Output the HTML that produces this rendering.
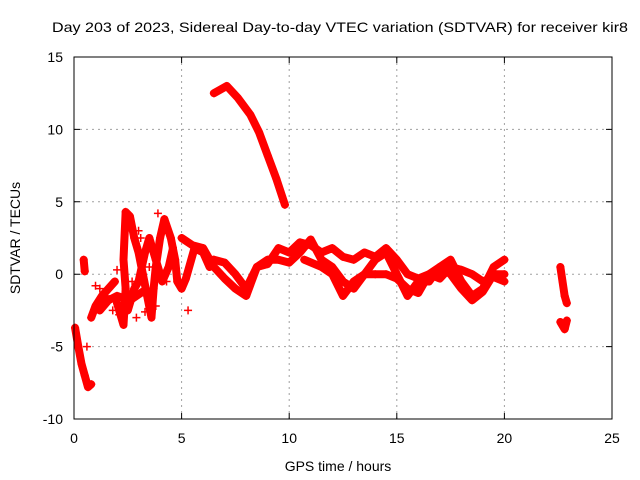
<!DOCTYPE html>
<html><head><meta charset="utf-8"><style>body{margin:0;background:#fff}svg{display:block;font-family:"Liberation Sans",sans-serif}</style></head>
<body>
<svg id="c" width="640" height="480">
<text x="340" y="32" font-size="14" text-anchor="middle" textLength="576" lengthAdjust="spacingAndGlyphs">Day 203 of 2023, Sidereal Day-to-day VTEC variation (SDTVAR) for receiver kir8</text>
<text x="338" y="471" font-size="14" text-anchor="middle">GPS time / hours</text>
<text transform="translate(20,238) rotate(-90)" font-size="14" text-anchor="middle">SDTVAR / TECUs</text>
<g id="grid"></g><g id="marks"></g>
<rect x="74" y="57" width="538" height="362" fill="none" stroke="#000" stroke-width="1"/>
</svg>
<script>
const xTicks=[0,5,10,15,20,25];
const yTicks=[-10,-5,0,5,10,15];
const trackArc=[[6.5,12.5],[7.1,13],[7.6,12.2],[8.2,11],[8.6,9.8],[9.0,8.2],[9.4,6.6],[9.8,4.8]];
const trackEarly=[[0.05,-3.7],[0.2,-5],[0.35,-6.2],[0.5,-7],[0.65,-7.8],[0.8,-7.6]];
const trackEarly2=[[0.45,1],[0.5,0.2]];
const trackEarly3=[[0.8,-3],[1,-2.2],[1.3,-1.5],[1.6,-1],[1.9,-0.5]];
const trackB=[[2.0,-2],[2.3,-3.5],[2.4,-1],[2.3,1],[2.4,4.3],[2.6,4],[2.8,2.5],[3.0,1.5],[3.2,0],[3.4,-1.5],[3.6,-3],[3.7,-1],[3.8,0.5],[4.0,2.5],[4.2,3.8],[4.5,2.5],[4.7,1],[4.8,-0.5],[5.0,-1],[5.2,-0.3],[5.6,1.8],[6.0,1.5],[6.3,0.5],[6.5,1],[7.0,0.8],[7.5,0],[8,-1],[8.5,0.5],[9,1],[9.5,1],[10,0.8],[10.5,1.5],[11,2.4],[11.5,1],[12,0.5],[12.5,-0.5],[13,-1],[13.5,0],[14,1],[14.5,1.5],[15,0],[15.5,-1.5],[16,-0.5],[16.5,-0.5],[17,0.5],[17.5,1],[18,-0.5],[18.5,-1.5],[19,-1],[19.5,0.5],[20,1]];
const trackC=[[5.0,2.5],[5.5,2],[6,1.8],[6.5,0.5],[7,-0.3],[7.5,-1],[8,-1.5],[8.5,0.5],[9,0.7],[9.5,1.8],[10,1.5],[10.5,2.2],[11,2],[11.5,1.5],[12,1.8],[12.5,1.2],[13,1],[13.5,1.5],[14,1.2],[14.5,1.8],[15,1],[15.5,0],[16,-0.3],[16.5,0],[17,-0.3],[17.5,0.5],[18,0.3],[18.5,0],[19,-0.5],[19.5,-0.2],[20,-0.5]];
const trackD=[[10.7,1],[11.5,0.5],[12,0],[12.5,-1.5],[13,-0.5],[13.5,0],[14,0],[14.5,0],[15,-0.3],[15.5,-1],[16,-1.3],[16.5,0],[17,0.5],[17.5,0],[18,-1],[18.5,-1.8],[19,-1.2],[19.5,0],[20,0]];
const trackE=[[2.5,-2.5],[2.8,-1],[3.0,-0.5],[3.3,1.5],[3.5,2.5],[3.8,1],[4.1,-0.5],[4.4,0.5],[4.6,1.8]];
const trackF=[[1.2,-2.5],[1.6,-1.8],[2.0,-1.5],[2.6,-1.8],[3.2,-1.2]];
const trackLate1=[[22.6,0.5],[22.7,-0.5],[22.8,-1.5],[22.9,-2]];
const trackLate2=[[22.6,-3.3],[22.8,-3.8],[22.9,-3.2]];
const scatter=[[1.2,-1],[1.8,-2.5],[2.0,0.3],[3.0,3],[2.7,-0.5],[3.8,-2.2],[3.5,0.5],[3.9,4.2],[4.3,-0.5],[5.3,-2.5],[1.0,-0.8],[2.9,-3],[3.1,2.5],[3.3,-2.6],[2.1,-2.8],[1.5,-1.5],[4.6,1.6],[1.4,-2],[0.6,-5]];
const NS="http://www.w3.org/2000/svg";
const X=v=>74+v*538/25, Y=v=>419-(v+10)*362/25;
const svg=document.getElementById('c'),grid=document.getElementById('grid'),marks=document.getElementById('marks');
function mk(t,a,p){const e=document.createElementNS(NS,t);for(const k in a)e.setAttribute(k,a[k]);p.appendChild(e);return e;}
xTicks.forEach(t=>{
 if(t>0&&t<25){const l=mk('line',{x1:X(t),x2:X(t),y1:57,y2:419,stroke:'#a0a0a0','stroke-dasharray':'2,4'},grid);
 
 }
 mk('path',{d:`M${X(t)},419v-6M${X(t)},57v6`,stroke:'#000'},grid);
 const tx=mk('text',{x:X(t),y:443,'font-size':14,'text-anchor':'middle'},svg);tx.textContent=t;
 
 
});
yTicks.forEach(t=>{
 if(t>-10&&t<15){const l=mk('line',{x1:74,x2:612,y1:Y(t),y2:Y(t),stroke:'#a0a0a0','stroke-dasharray':'2,4'},grid);
 
 }
 mk('path',{d:`M74,${Y(t)}h6M612,${Y(t)}h-6`,stroke:'#000'},grid);
 const tx=mk('text',{x:63,y:Y(t)+5,'font-size':14,'text-anchor':'end'},svg);tx.textContent=t;
 
 
});
function plus(x,y){mk('path',{d:`M${X(x)-4},${Y(y)}h8M${X(x)},${Y(y)-4}v8`,stroke:'#f00','stroke-width':1.5},marks);}
[trackArc,trackEarly,trackEarly2,trackEarly3,trackB,trackC,trackD,trackE,trackF,trackLate1,trackLate2].forEach(tr=>{
 const p=mk('polyline',{points:tr.map(d=>X(d[0])+','+Y(d[1])).join(' '),fill:'none',stroke:'#f00','stroke-width':8,'stroke-linejoin':'round','stroke-linecap':'round'},marks);
 
 
 tr.forEach(d=>plus(d[0],d[1]));
});
scatter.forEach(d=>plus(d[0],d[1]));
</script>
</body></html>
